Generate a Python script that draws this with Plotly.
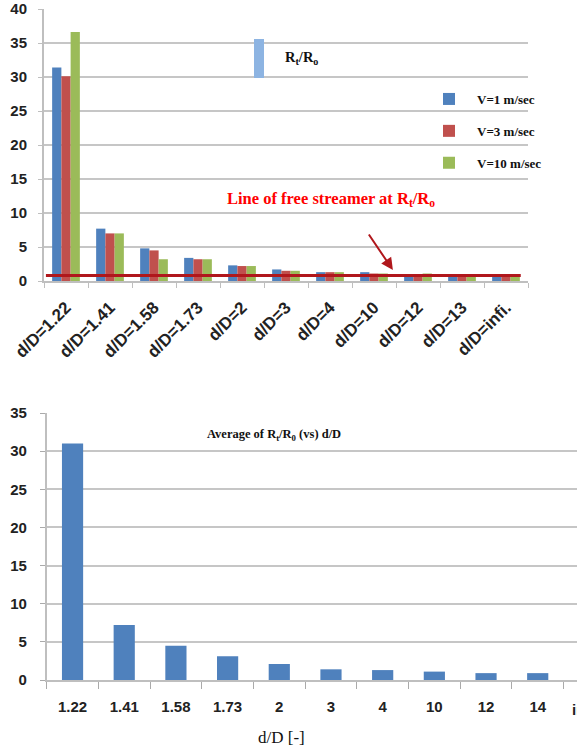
import plotly.graph_objects as go

# ---------------- data ----------------
top_categories = ["d/D=1.22", "d/D=1.41", "d/D=1.58", "d/D=1.73", "d/D=2", "d/D=3",
                  "d/D=4", "d/D=10", "d/D=12", "d/D=13", "d/D=infi."]
v1_values = [31.4, 7.7, 4.8, 3.4, 2.3, 1.7, 1.3, 1.3, 0.9, 0.9, 0.9]
v3_values = [30.1, 7.0, 4.5, 3.2, 2.2, 1.5, 1.3, 1.1, 0.9, 0.9, 0.9]
v10_values = [36.6, 7.0, 3.2, 3.2, 2.2, 1.5, 1.3, 1.1, 1.1, 0.9, 0.9]
series_names = ["V=1 m/sec", "V=3 m/sec", "V=10 m/sec"]
free_streamer_level = 0.8

bottom_categories = ["1.22", "1.41", "1.58", "1.73", "2", "3", "4", "10", "12", "14", "infi."]
average_values = [31.0, 7.2, 4.5, 3.1, 2.1, 1.4, 1.3, 1.1, 0.9, 0.9, 0.9]

# ---------------- layout helpers ----------------
W, H = 577, 749
def px(x):
    return x / W
def py(y):
    return 1 - y / H

colors = ["#4F81BD", "#C0504D", "#9BBB59"]
GRID = "#C6C6C6"
serif = "Liberation Serif"
sans = "Liberation Sans"

fig = go.Figure()
for i, (name, vals) in enumerate(zip(series_names, [v1_values, v3_values, v10_values])):
    fig.add_trace(go.Bar(x=top_categories, y=vals, name=name, marker_color=colors[i],
                         marker_line_width=0, xaxis="x", yaxis="y",
                         legendgroup=f"g{i}"))

fig.add_trace(go.Bar(x=bottom_categories, y=average_values, name="Average",
                     marker_color="#4F81BD", marker_line_width=0, width=0.41,
                     xaxis="x2", yaxis="y2", showlegend=False))

shapes = [
    # white boxes behind texts (cover gridlines)
    dict(type="rect", xref="paper", yref="paper", x0=px(264), x1=px(367), y0=py(84), y1=py(28),
         fillcolor="white", line_width=0, layer="between"),
    dict(type="rect", xref="paper", yref="paper", x0=px(457), x1=px(530), y0=py(192), y1=py(84),
         fillcolor="white", line_width=0, layer="between"),
    dict(type="rect", xref="paper", yref="paper", x0=px(206), x1=px(458), y0=py(233), y1=py(176),
         fillcolor="white", line_width=0, layer="between"),
    dict(type="rect", xref="paper", yref="paper", x0=px(178), x1=px(443), y0=py(462), y1=py(425),
         fillcolor="white", line_width=0, layer="between"),
    # light blue strip next to the title
    dict(type="rect", xref="paper", yref="paper", x0=px(254), x1=px(264), y0=py(78), y1=py(39),
         fillcolor="#8DB4E2", line_width=0, layer="above"),
    # free streamer line
    dict(type="line", xref="x domain", yref="y", x0=0.004, x1=0.985,
         y0=free_streamer_level, y1=free_streamer_level,
         line=dict(color="#B0171C", width=3), layer="above"),
]

def note(text, x, y, size, color="#111", family=serif, xanchor="center"):
    return dict(text=text, xref="paper", yref="paper", x=x, y=y, showarrow=False,
                xanchor=xanchor, yanchor="middle",
                font=dict(family=family, size=size, color=color))

annotations = [
    note("<b>R<sub>t</sub>/R<sub>o</sub></b>", px(301), py(58), 14.5),
    note("<b>Line of free streamer at R<sub>t</sub>/R<sub>o</sub></b>", px(331), py(199), 16.5,
         color="#FF0000"),
    dict(text="", xref="x", yref="y", x=7.43, y=1.6, axref="x", ayref="y", ax=6.86, ay=7.06,
         showarrow=True, arrowhead=2, arrowsize=1.2, arrowwidth=2, arrowcolor="#B0171C"),
    note("<b>Average of R<sub>t</sub>/R<sub>0</sub> (vs) d/D</b>", px(274), py(435), 12.5),
    note("d/D [-]", px(281), py(737), 17),
    note("<b>" + bottom_categories[-1] + "</b>", px(570), py(709), 15, color="#222",
         family=sans, xanchor="left"),
]

fig.update_layout(
    width=W, height=H,
    margin=dict(l=0, r=0, t=0, b=0, autoexpand=False),
    paper_bgcolor="white", plot_bgcolor="white",
    barmode="group", bargap=0.37, bargroupgap=0,
    showlegend=True,
    legend=dict(x=px(421), y=py(84), xanchor="left", yanchor="top",
                bgcolor="rgba(0,0,0,0)", font=dict(family=serif, size=13, color="#111", weight="bold"),
                itemwidth=46, tracegroupgap=12, traceorder="grouped"),
    xaxis=dict(domain=[px(44), px(528)], range=[-0.5, 10.5], type="category",
               showline=True, linecolor="#BFBFBF", linewidth=2,
               ticks="outside", ticklen=5, tickcolor="#BFBFBF", tickson="boundaries",
               tickangle=-45, ticklabelstandoff=8, automargin=False,
               tickfont=dict(family=sans, size=17, color="#222"),
               showgrid=False, anchor="y",
               tickvals=top_categories,
               ticktext=["<b>" + c + "</b>" for c in top_categories]),
    yaxis=dict(domain=[py(281), py(9)], range=[0, 40], dtick=5,
               showline=True, linecolor="#BFBFBF", linewidth=2,
               ticks="outside", ticklen=4, tickcolor="#BFBFBF",
               gridcolor=GRID, gridwidth=2, zeroline=False,
               ticklabelstandoff=8, automargin=False,
               tickfont=dict(family=sans, size=15, color="#222", weight="bold"),
               anchor="x"),
    xaxis2=dict(domain=[px(46.7), 1.0], range=[-0.5, 9.76], type="category",
                showline=True, linecolor="#BFBFBF", linewidth=1.5,
                ticks="outside", ticklen=7, tickcolor="#AAAAAA", tickson="boundaries",
                ticklabelstandoff=12, automargin=False,
                tickvals=bottom_categories,
                ticktext=["<b>" + c + "</b>" for c in bottom_categories],
                tickfont=dict(family=sans, size=15, color="#222"),
                showgrid=False, anchor="y2"),
    yaxis2=dict(domain=[py(680), py(413)], range=[0, 35], dtick=5,
                showline=True, linecolor="#BFBFBF", linewidth=1.5,
                ticks="outside", ticklen=5, tickcolor="#AAAAAA",
                gridcolor=GRID, gridwidth=1.5, zeroline=False,
                ticklabelstandoff=10, automargin=False,
                tickfont=dict(family=sans, size=15, color="#222", weight="bold"),
                anchor="x2"),
    shapes=shapes,
    annotations=annotations,
)

fig.write_html("out.html", config={"displayModeBar": False},
               post_script="document.body.style.margin='0';")
